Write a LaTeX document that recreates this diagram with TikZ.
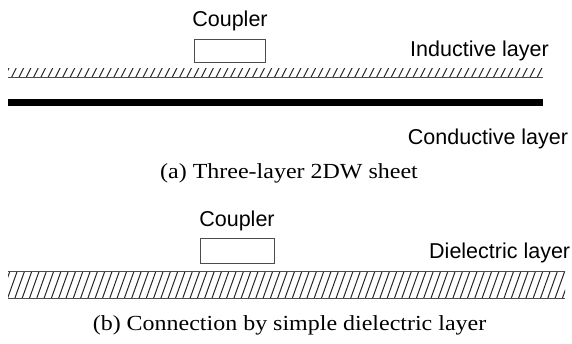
\documentclass[tikz,border=0pt]{standalone}
\usepackage{fontspec}
\setmainfont{Liberation Serif}
\setsansfont{Liberation Sans}
\begin{document}
\begin{tikzpicture}[x=1pt,y=-1pt,
  lbl/.style={font=\sffamily\fontsize{21.5}{24}\selectfont,inner sep=0pt,anchor=base},
  captext/.style={font=\fontsize{21.5}{24}\selectfont,inner sep=0pt,anchor=base},
  coupler/.style={draw=black!70,line width=0.9pt,fill=white},
  hatchline/.style={line width=1pt,black!85},
  edge/.style={line width=1pt,black!70}]
\useasboundingbox (0,0) rectangle (572,344);

% ---- (a) three-layer sheet ----
\node[lbl] (cpa) at (230,27) {Coupler};
\draw[coupler] (194,39) rectangle (265,62);
\node[lbl] (ind) at (479.5,57) {Inductive layer};

% thin inductive layer, hatched
\begin{scope}
  \clip (8,69) rectangle (543,77);
  \foreach \i in {0,...,75} {
    \draw[hatchline] (7.3*\i+4,78) -- (7.3*\i+9,68);
  }
\end{scope}
\draw[edge] (8,77.2) -- (543,77.2);

% conductive layer
\fill[black] (8,99) rectangle (543,106.5);
\node[lbl] (cond) at (488,145) {Conductive layer};

\node[captext] (capa) at (289,178.5) {\scalebox{1.115}[1]{(a) Three-layer 2DW sheet}};

% ---- (b) dielectric connection ----
\node[lbl] (cpb) at (237,226.5) {Coupler};
\draw[coupler] (200.5,238) rectangle (274,263);
\node[lbl,anchor=base west] (diel) at (429,259) {Dielectric layer};

\begin{scope}
  \clip (8,272) rectangle (565,298);
  \foreach \i in {-2,...,78} {
    \draw[hatchline] (7.3*\i,299) -- (7.3*\i+10,271);
  }
\end{scope}
\draw[edge] (8,272) -- (565,272);
\draw[edge] (8,298) -- (565,298);

\node[captext] (capb) at (289.5,330.7) {\scalebox{1.115}[1]{(b) Connection by simple dielectric layer}};
\end{tikzpicture}
\end{document}
